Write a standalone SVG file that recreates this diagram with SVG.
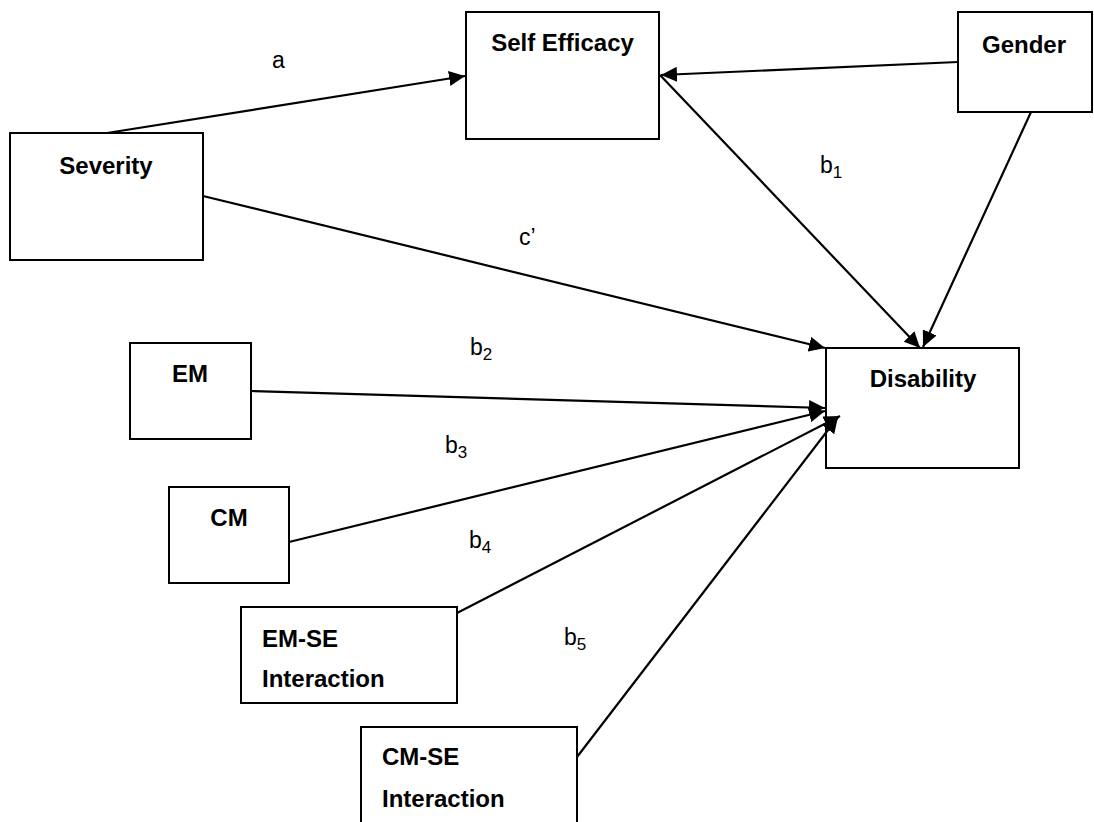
<svg xmlns="http://www.w3.org/2000/svg" width="1094" height="822" viewBox="0 0 1094 822">
<style>
.box{fill:#fff;stroke:#000;stroke-width:2}
.lbl{font-family:"Liberation Sans",Arial,sans-serif;font-weight:bold;font-size:24px;fill:#000}
.ctr{text-anchor:middle}
.edge{stroke:#000;stroke-width:2.2;fill:none;marker-end:url(#ah)}
.el{font-family:"Liberation Sans",Arial,sans-serif;font-size:23px;fill:#000}
.sub{font-size:17px}
</style>
<defs>
<marker id="ah" markerUnits="userSpaceOnUse" markerWidth="17" markerHeight="15" refX="16" refY="7.5" orient="auto">
<path d="M0,0 L16,7.5 L0,15 z" fill="#000"/>
</marker>
</defs>
<rect width="1094" height="822" fill="#fff"/>
<g id="self-efficacy">
<rect class="box" x="466" y="12" width="193" height="127"/>
<text class="lbl ctr" x="562.5" y="51">Self Efficacy</text>
</g>
<g id="gender">
<rect class="box" x="958" y="12" width="134" height="100"/>
<text class="lbl ctr" x="1024" y="53">Gender</text>
</g>
<g id="severity">
<rect class="box" x="10" y="133" width="193" height="127"/>
<text class="lbl ctr" x="106" y="174">Severity</text>
</g>
<g id="disability">
<rect class="box" x="826" y="348" width="193" height="120"/>
<text class="lbl ctr" x="923" y="387">Disability</text>
</g>
<g id="em">
<rect class="box" x="130" y="343" width="121" height="96"/>
<text class="lbl ctr" x="190" y="382">EM</text>
</g>
<g id="cm">
<rect class="box" x="169" y="487" width="120" height="96"/>
<text class="lbl ctr" x="229" y="526">CM</text>
</g>
<g id="em-se">
<rect class="box" x="241" y="607" width="216" height="96"/>
<text class="lbl" x="262" y="647">EM-SE</text>
<text class="lbl" x="262" y="687">Interaction</text>
</g>
<g id="cm-se">
<rect class="box" x="361" y="727" width="216" height="110"/>
<text class="lbl" x="382" y="765">CM-SE</text>
<text class="lbl" x="382" y="807">Interaction</text>
</g>
<g id="connectors">
<line class="edge" x1="107" y1="133" x2="465" y2="76"/>
<line class="edge" x1="958" y1="62" x2="661" y2="75"/>
<line class="edge" x1="660" y1="75" x2="920" y2="348"/>
<line class="edge" x1="1031" y1="112" x2="923" y2="347"/>
<line class="edge" x1="203" y1="196" x2="825" y2="348"/>
<line class="edge" x1="251" y1="391" x2="825" y2="408"/>
<line class="edge" x1="289" y1="542" x2="825" y2="411"/>
<line class="edge" x1="457" y1="613" x2="840" y2="416"/>
<line class="edge" x1="577" y1="757" x2="838" y2="417"/>
<text class="el" x="272" y="68">a</text>
<text class="el" x="519" y="245">c’</text>
<text class="el" x="820" y="173">b<tspan class="sub" dy="5">1</tspan></text>
<text class="el" x="470" y="355">b<tspan class="sub" dy="5">2</tspan></text>
<text class="el" x="445" y="453">b<tspan class="sub" dy="5">3</tspan></text>
<text class="el" x="469" y="548">b<tspan class="sub" dy="5">4</tspan></text>
<text class="el" x="564" y="645">b<tspan class="sub" dy="5">5</tspan></text>
</g>
</svg>
